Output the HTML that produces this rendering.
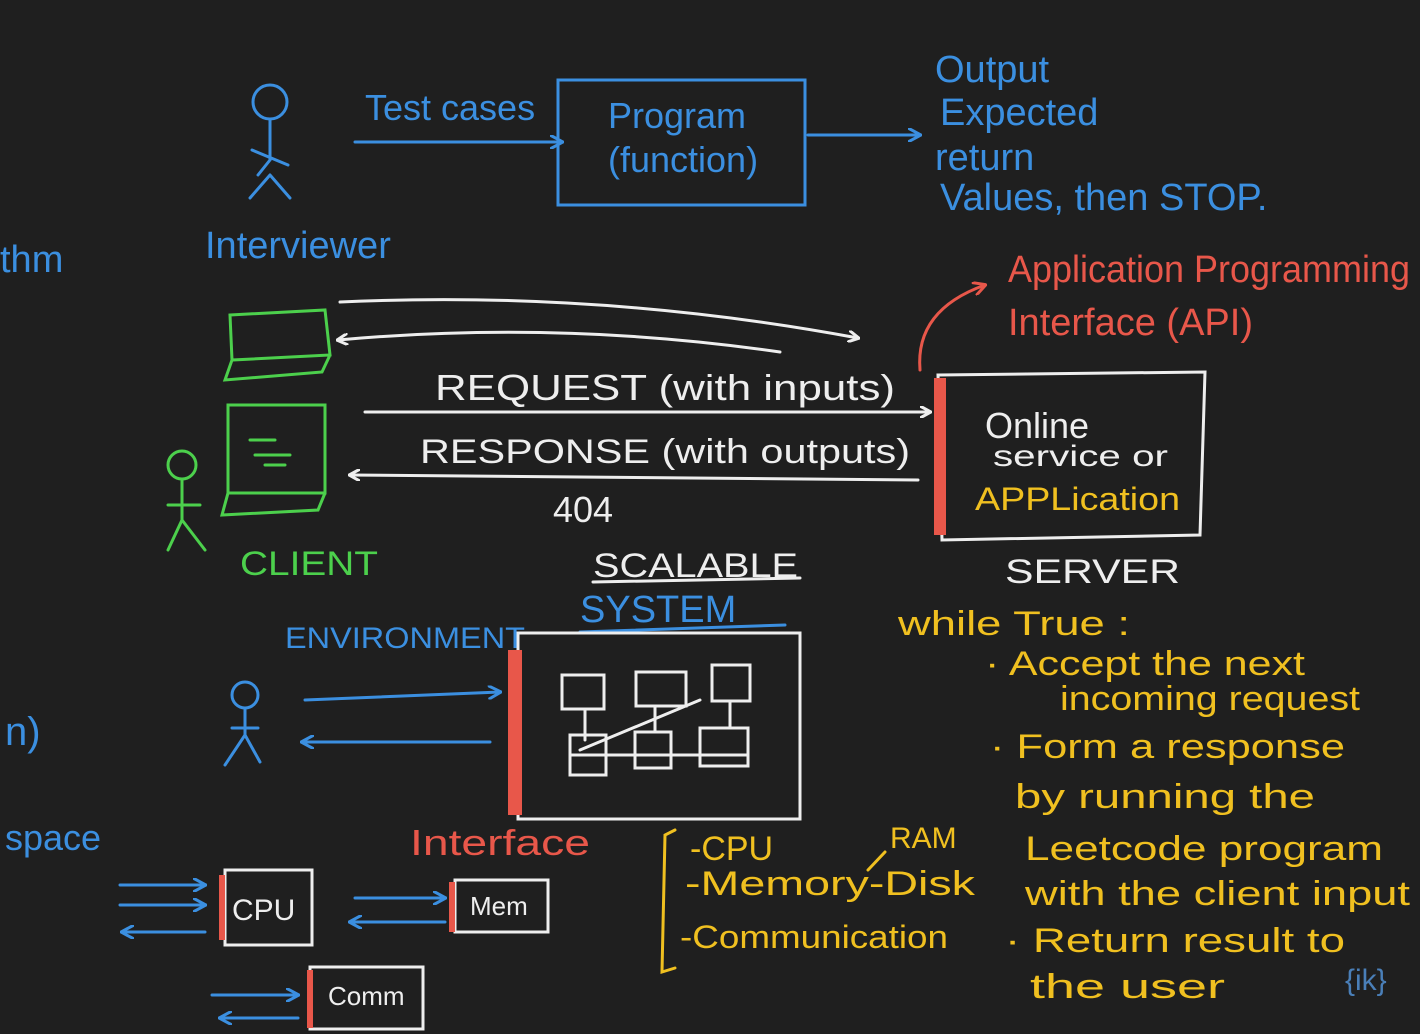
<!DOCTYPE html>
<html><head><meta charset="utf-8"><style>
html,body{margin:0;padding:0;background:#1f1f1f;}
svg{display:block}
text{font-family:"Liberation Sans",sans-serif;}
</style></head><body>
<svg width="1420" height="1034" viewBox="0 0 1420 1034" xmlns="http://www.w3.org/2000/svg">
<defs>
<marker id="aw" markerWidth="12" markerHeight="12" refX="10" refY="6" orient="auto" markerUnits="userSpaceOnUse"><path d="M0,0 L11,6 L0,12" fill="none" stroke="#eee" stroke-width="3"/></marker>
<marker id="ab" markerWidth="14" markerHeight="14" refX="12" refY="7" orient="auto" markerUnits="userSpaceOnUse"><path d="M0,0 L13,7 L0,14" fill="none" stroke="#3b8fe0" stroke-width="3"/></marker>
<marker id="ar" markerWidth="14" markerHeight="14" refX="12" refY="7" orient="auto" markerUnits="userSpaceOnUse"><path d="M0,0 L13,7 L0,14" fill="none" stroke="#e8574a" stroke-width="3"/></marker>
</defs>
<rect width="1420" height="1034" fill="#1f1f1f"/>
<g fill="none" stroke-width="3" stroke-linecap="round">
<g stroke="#3b8fe0">
<circle cx="270" cy="102" r="17"/><path d="M270,119 V160 M252,150 L288,165 M270,175 L250,198 M270,175 L290,198 M270,160 L258,175"/>
<path d="M355,142 H562" marker-end="url(#ab)"/>
<rect x="558" y="80" width="247" height="125"/>
<path d="M808,135 H920" marker-end="url(#ab)"/>
<circle cx="245" cy="695" r="13"/><path d="M245,708 V735 L225,765 M245,735 L260,762 M232,728 H258"/>
<path d="M305,700 L500,692" marker-end="url(#ab)"/>
<path d="M490,742 L302,742" marker-end="url(#ab)"/>
<path d="M580,632 L785,625"/>
<path d="M120,885 H205" marker-end="url(#ab)"/>
<path d="M120,905 H205" marker-end="url(#ab)"/>
<path d="M205,932 H122" marker-end="url(#ab)"/>
<path d="M355,898 H445" marker-end="url(#ab)"/>
<path d="M445,922 H350" marker-end="url(#ab)"/>
<path d="M212,995 H298" marker-end="url(#ab)"/>
<path d="M298,1018 H220" marker-end="url(#ab)"/>
</g>
<g stroke="#4cd04c">
<path d="M230,315 L325,310 L330,355 L232,360 Z M232,360 L225,380 L322,372 L330,355"/>
<rect x="228" y="405" width="97" height="88"/><path d="M228,493 L222,515 L318,510 L325,493"/>
<path d="M250,440 H275 M255,455 H290 M265,465 H285"/>
<circle cx="182" cy="465" r="14"/><path d="M182,479 V520 L168,550 M182,520 L205,550 M168,505 H200"/>
</g>
<g stroke="#eee">
<path d="M340,302 Q600,290 858,338" marker-end="url(#aw)"/>
<path d="M780,352 Q560,320 338,340" marker-end="url(#aw)"/>
<path d="M365,412 L930,412" marker-end="url(#aw)"/>
<path d="M918,480 L350,475" marker-end="url(#aw)"/>
<path d="M938,375 L1205,372 L1200,535 L942,540 Z"/>
<path d="M593,582 L800,578"/>
<rect x="518" y="633" width="282" height="186"/>
<rect x="562" y="675" width="42" height="34"/><rect x="636" y="672" width="50" height="34"/><rect x="712" y="665" width="38" height="36"/>
<rect x="570" y="735" width="36" height="40"/><rect x="635" y="732" width="36" height="36"/><rect x="700" y="728" width="48" height="38"/>
<path d="M585,709 V740 M655,706 V732 M730,701 V728 M580,750 L700,700 M570,755 H748"/>
<rect x="225" y="870" width="87" height="75"/>
<rect x="455" y="880" width="93" height="52"/>
<rect x="310" y="967" width="113" height="62"/>
</g>
<g stroke="#e8574a" stroke-width="12" stroke-linecap="butt">
<path d="M940,378 V535"/><path d="M515,650 V815" stroke-width="14"/>
<path d="M222,875 V940" stroke-width="6"/><path d="M452,882 V932" stroke-width="6"/><path d="M310,970 V1028" stroke-width="6"/>
</g>
<path d="M920,370 Q915,310 985,285" stroke="#e8574a" marker-end="url(#ar)"/>
<g stroke="#f0c020">
<path d="M675,830 L665,835 L662,972 L675,968"/>
<path d="M868,870 L885,852"/>
</g>
</g>
<g fill="#3b8fe0">
<text x="365" y="120" font-size="36">Test cases</text>
<text x="608" y="128" font-size="36">Program</text>
<text x="608" y="172" font-size="36">(function)</text>
<text x="935" y="82" font-size="38">Output</text>
<text x="940" y="125" font-size="38">Expected</text>
<text x="935" y="170" font-size="38">return</text>
<text x="940" y="210" font-size="38">Values, then STOP.</text>
<text x="0" y="272" font-size="38">thm</text>
<text x="205" y="258" font-size="38">Interviewer</text>
<text x="580" y="622" font-size="38">SYSTEM</text>
<text x="285" y="648" font-size="30" textLength="240" lengthAdjust="spacingAndGlyphs">ENVIRONMENT</text>
<text x="5" y="745" font-size="40">n)</text>
<text x="5" y="850" font-size="36">space</text>
</g>
<g fill="#e8574a">
<text x="1008" y="282" font-size="38" textLength="402" lengthAdjust="spacingAndGlyphs">Application Programming</text>
<text x="1008" y="335" font-size="38">Interface (API)</text>
<text x="410" y="855" font-size="36" textLength="180" lengthAdjust="spacingAndGlyphs">Interface</text>
</g>
<g fill="#eee">
<text x="435" y="400" font-size="36" textLength="460" lengthAdjust="spacingAndGlyphs">REQUEST (with inputs)</text>
<text x="420" y="463" font-size="34" textLength="490" lengthAdjust="spacingAndGlyphs">RESPONSE (with outputs)</text>
<text x="553" y="522" font-size="36">404</text>
<text x="985" y="438" font-size="36">Online</text>
<text x="993" y="466" font-size="30" textLength="175" lengthAdjust="spacingAndGlyphs">service or</text>
<text x="1005" y="583" font-size="34" textLength="175" lengthAdjust="spacingAndGlyphs">SERVER</text>
<text x="593" y="577" font-size="34" textLength="205" lengthAdjust="spacingAndGlyphs">SCALABLE</text>
<text x="232" y="920" font-size="30">CPU</text>
<text x="470" y="915" font-size="26">Mem</text>
<text x="328" y="1005" font-size="26">Comm</text>
</g>
<text x="975" y="510" font-size="32" fill="#f0c020" textLength="205" lengthAdjust="spacingAndGlyphs">APPLication</text>
<text x="240" y="575" font-size="34" fill="#4cd04c" textLength="138" lengthAdjust="spacingAndGlyphs">CLIENT</text>
<g fill="#f0c020" font-size="34">
<text x="690" y="860">-CPU</text>
<text x="890" y="848" font-size="30">RAM</text>
<text x="685" y="895" textLength="290" lengthAdjust="spacingAndGlyphs">-Memory-Disk</text>
<text x="680" y="948" font-size="32" textLength="268" lengthAdjust="spacingAndGlyphs">-Communication</text>
<text x="898" y="635" textLength="232" lengthAdjust="spacingAndGlyphs">while True :</text>
<text x="985" y="675" textLength="320" lengthAdjust="spacingAndGlyphs">· Accept the next</text>
<text x="1060" y="710" textLength="300" lengthAdjust="spacingAndGlyphs">incoming request</text>
<text x="990" y="758" textLength="355" lengthAdjust="spacingAndGlyphs">· Form a response</text>
<text x="1015" y="808" textLength="300" lengthAdjust="spacingAndGlyphs">by running the</text>
<text x="1025" y="860" textLength="358" lengthAdjust="spacingAndGlyphs">Leetcode program</text>
<text x="1025" y="905" textLength="385" lengthAdjust="spacingAndGlyphs">with the client input</text>
<text x="1005" y="952" textLength="340" lengthAdjust="spacingAndGlyphs">· Return result to</text>
<text x="1030" y="998" textLength="195" lengthAdjust="spacingAndGlyphs">the user</text>
</g>
<text x="1345" y="990" font-size="30" fill="#4a7fb8">{ik}</text>
</svg>
</body></html>
